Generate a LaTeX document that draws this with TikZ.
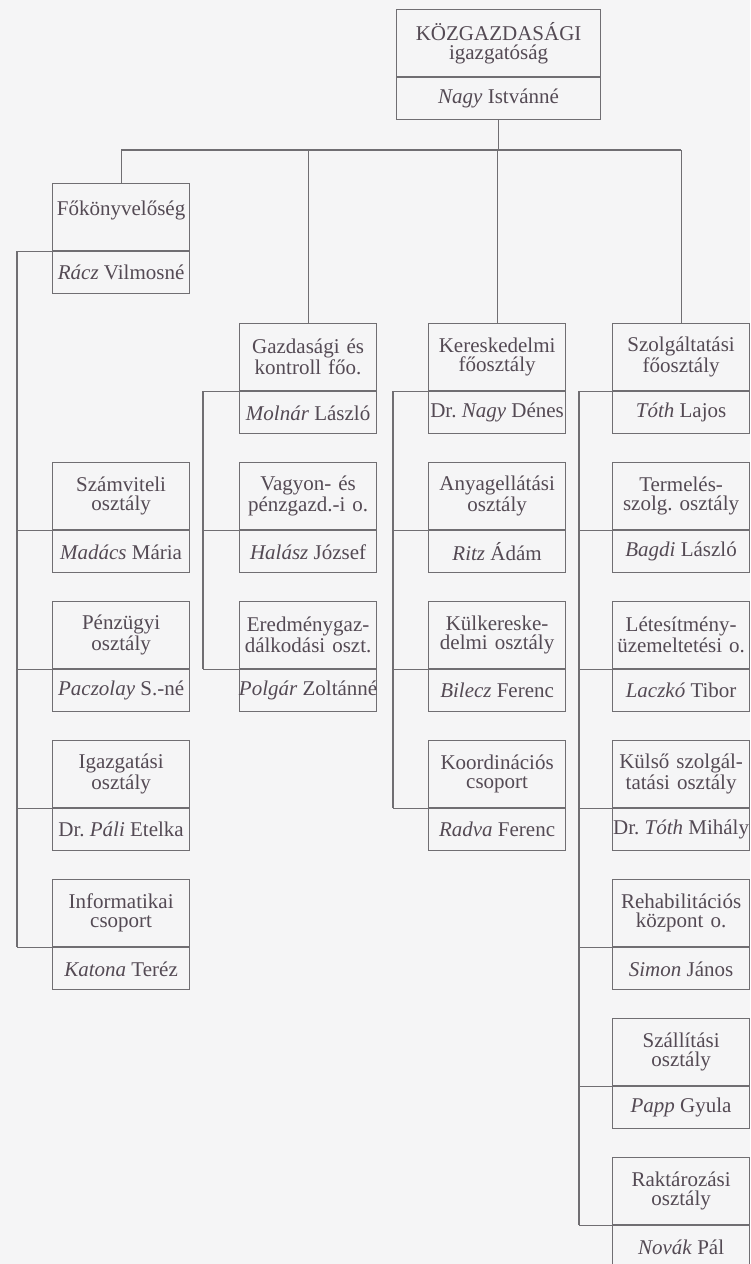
\documentclass[tikz,border=0pt]{standalone}
\usepackage{fontspec}
\setmainfont{Liberation Serif}
\usetikzlibrary{positioning}
\frenchspacing

\definecolor{ink}{RGB}{84,74,84}
\definecolor{rule}{RGB}{112,110,114}
\definecolor{paper}{RGB}{245,245,246}

\newlength{\boxw}
\setlength{\boxw}{68.5pt}

\tikzset{
	unit/.style={draw=rule, line width=0.6pt, text=ink, inner xsep=0pt, inner ysep=0pt,
		font=\fontsize{10.5}{9.4}\selectfont},
	title/.style={unit, align=center, text width=\boxw, minimum height=33.5pt, anchor=north west},
	% names stay on one line, even where they run past the frame
	person/.style={unit, minimum height=21pt, below=0pt of #1,
		execute at begin node={\hbox to\boxw\bgroup\hss},
		execute at end node={\hss\egroup}},
}

\begin{document}
\begin{tikzpicture}[x=0.5pt, y=-0.5pt, line width=0.6pt, draw=rule]
	\fill[paper] (0,0) rectangle (750,1264);
	\useasboundingbox (0,0) rectangle (750,1264);

	% head of the directorate
	\begin{scope}[/utils/exec={\setlength{\boxw}{102pt}}]
	\node[title] (h) at (396,9) {KÖZGAZDASÁGI\\igazgatóság};
	\node[person=h] (hp) {\textit{Nagy} Istvánné};
	\end{scope}

	% column a
	\node[title] (a0) at (52,183)  {Főkönyvelőség\\\mbox{}};
	\node[person=a0] (a0p) {\textit{Rácz} Vilmosné};
	\node[title] (a1) at (52,462)  {Számviteli\\osztály};
	\node[person=a1] (a1p) {\textit{Madács} Mária};
	\node[title] (a2) at (52,601)  {Pénzügyi\\osztály};
	\node[person=a2] (a2p) {\textit{Paczolay} S.-né};
	\node[title] (a3) at (52,740)  {Igazgatási\\osztály};
	\node[person=a3] (a3p) {Dr. \textit{Páli} Etelka};
	\node[title] (a4) at (52,879)  {Informatikai\\csoport};
	\node[person=a4] (a4p) {\textit{Katona} Teréz};

	% column b
	\node[title] (b0) at (239,323) {Gazdasági és\\kontroll főo.};
	\node[person=b0] (b0p) {\textit{Molnár} László};
	\node[title] (b1) at (239,462) {Vagyon- és\\pénzgazd.-i o.};
	\node[person=b1] (b1p) {\textit{Halász} József};
	\node[title] (b2) at (239,601) {Eredménygaz-\\dálkodási oszt.};
	\node[person=b2] (b2p) {\textit{Polgár} Zoltánné};

	% column c
	\node[title] (c0) at (428,323) {Kereskedelmi\\főosztály};
	\node[person=c0] (c0p) {Dr. \textit{Nagy} Dénes};
	\node[title] (c1) at (428,462) {Anyagellátási\\osztály};
	\node[person=c1] (c1p) {\textit{Ritz} Ádám};
	\node[title] (c2) at (428,601) {Külkereske-\\delmi osztály};
	\node[person=c2] (c2p) {\textit{Bilecz} Ferenc};
	\node[title] (c3) at (428,740) {Koordinációs\\csoport};
	\node[person=c3] (c3p) {\textit{Radva} Ferenc};

	% column d
	\node[title] (d0) at (612,323)  {Szolgáltatási\\főosztály};
	\node[person=d0] (d0p) {\textit{Tóth} Lajos};
	\node[title] (d1) at (612,462)  {Termelés-\\szolg. osztály};
	\node[person=d1] (d1p) {\textit{Bagdi} László};
	\node[title] (d2) at (612,601)  {Létesítmény-\\üzemeltetési o.};
	\node[person=d2] (d2p) {\textit{Laczkó} Tibor};
	\node[title] (d3) at (612,740)  {Külső szolgál-\\tatási osztály};
	\node[person=d3] (d3p) {Dr. \textit{Tóth} Mihály};
	\node[title] (d4) at (612,879)  {Rehabilitációs\\központ o.};
	\node[person=d4] (d4p) {\textit{Simon} János};
	\node[title] (d5) at (612,1018) {Szállítási\\osztály};
	\node[person=d5] (d5p) {\textit{Papp} Gyula};
	\node[title] (d6) at (612,1157) {Raktározási\\osztály};
	\node[person=d6] (d6p) {\textit{Novák} Pál};

	% bar under the head
	\coordinate (bar) at (0,150);
	\path [-] (hp) edge (hp |- bar);
	\path [-] (a0 |- bar) edge (d0 |- bar);
	\path [-] (a0 |- bar) edge (a0);
	\path [-] (b0 |- bar) edge (b0);
	\path [-] (c0 |- bar) edge (c0);
	\path [-] (d0 |- bar) edge (d0);

	% trunks down each column
	\coordinate (ta) at (17,0);
	\coordinate (tb) at (203,0);
	\coordinate (tc) at (393,0);
	\coordinate (td) at (579,0);

	\path [-] (a0.south west) edge (ta |- a0.south west);
	\path [-] (ta |- a0.south west) edge (ta |- a4.south west);
	\foreach \i in {1,...,4}
		\path [-] (ta |- a\i.south west) edge (a\i.south west);

	\path [-] (b0.south west) edge (tb |- b0.south west);
	\path [-] (tb |- b0.south west) edge (tb |- b2.south west);
	\foreach \i in {1,2}
		\path [-] (tb |- b\i.south west) edge (b\i.south west);

	\path [-] (c0.south west) edge (tc |- c0.south west);
	\path [-] (tc |- c0.south west) edge (tc |- c3.south west);
	\foreach \i in {1,...,3}
		\path [-] (tc |- c\i.south west) edge (c\i.south west);

	\path [-] (d0.south west) edge (td |- d0.south west);
	\path [-] (td |- d0.south west) edge (td |- d6.south west);
	\foreach \i in {1,...,6}
		\path [-] (td |- d\i.south west) edge (d\i.south west);
\end{tikzpicture}
\end{document}
